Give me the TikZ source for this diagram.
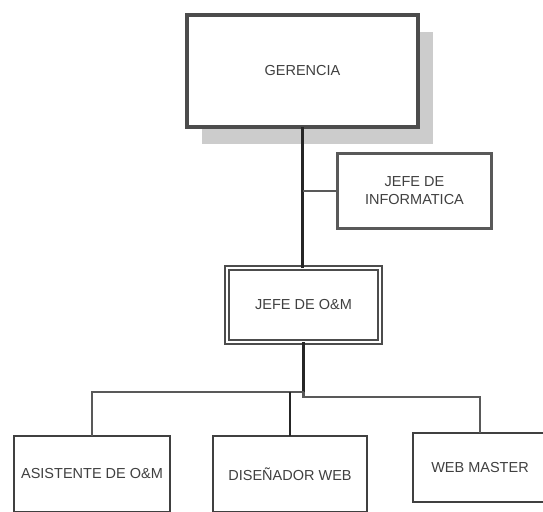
\documentclass[tikz,border=0pt]{standalone}
\usepackage{fontspec}
\setmainfont{Liberation Sans}
\usetikzlibrary{shadows}
\begin{document}
\begin{tikzpicture}[
		x=1pt, y=-1pt,
		font=\fontsize{14.5}{18}\selectfont,
		X/.style = {rectangle, draw=black!75, fill=white, text=black!75,% boxes of the chart
			align=center, inner sep=0pt, outer sep=0pt,
			minimum width=#1},
		X/.default=156pt,
		L/.style = {draw=black!85, line width=2.2pt},% connectors
		]
		\clip (0,0) rectangle (543,511);
		\node[X=231pt, minimum height=112pt, line width=4pt, draw=black!70,
			drop shadow={shadow xshift=15pt, shadow yshift=-17pt, fill=black!20, opacity=1}]
			(ger) at (302.5,71) {GERENCIA};
		\node[X=154pt, minimum height=75pt, line width=2.8pt, draw=black!65]
			(inf) at (414.5,191) {JEFE DE\\INFORMATICA};
		\node[X=153pt, minimum height=74pt, line width=2.2pt, draw=black!70,
			double, double distance=2.2pt]
			(om) at (303.5,305) {JEFE DE O\&M};
		\node[X, minimum height=76pt, line width=2.2pt] (asi) at (92,474) {ASISTENTE DE O\&M};
		\node[X=154pt, minimum height=76pt, line width=2.2pt] (dis) at (290,474) {DISEÑADOR WEB};
		\node[X=134pt, minimum height=69pt, line width=2.2pt] (web) at (480,467.5) {WEB MASTER};
		% links
		\draw[L] (ger.south) -- (ger.south |- om.north);
		\draw[L, draw=black!65] (inf.west) -- (inf.west -| ger.south);
		\draw[L] (om.south) -- ++(0,50) coordinate (s);
		\draw[L, draw=black!65] (s) -| (asi.north);
		\draw[L] (dis.north) -- (dis.north |- s);
		\draw[L, draw=black!65] (s) -- ++(0,5) -| (web.north);
	\end{tikzpicture}
\end{document}
